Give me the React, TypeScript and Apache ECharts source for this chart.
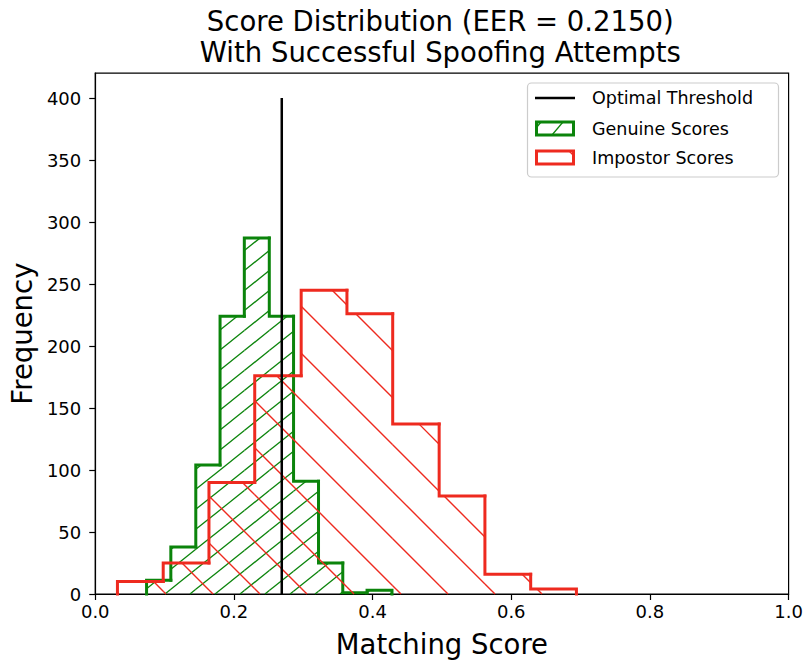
import React, { useEffect, useRef } from "react";
import * as echarts from "echarts";

// ---- data ----
const genuineEdges = [0.074, 0.109, 0.145, 0.18, 0.215, 0.251, 0.286, 0.322, 0.357, 0.392, 0.428];
const genuineCounts = [11, 38, 104, 224, 287, 224, 91, 25, 1, 3];
const impostorEdges = [0.032, 0.098, 0.164, 0.23, 0.297, 0.363, 0.429, 0.496, 0.562, 0.628, 0.694];
const impostorCounts = [10, 25, 90, 176, 245, 226, 137, 79, 16, 4];
const thresholdX = 0.269;
const thresholdTop = 400;
const yTickValues = [0, 50, 100, 150, 200, 250, 300, 350, 400];
const titleLines = ["Score Distribution (EER = 0.2150)", "With Successful Spoofing Attempts"];
const legendLabels = ["Optimal Threshold", "Genuine Scores", "Impostor Scores"];

const GREEN = "#0b840b";
const RED = "#ee2a1f";
const FONT = "DejaVu Sans";

function toBins(edges: number[], counts: number[]) {
  return counts.map((c, i) => [
    edges[i],
    edges[i + 1],
    c,
    i > 0 ? counts[i - 1] : 0,
    i === counts.length - 1 ? 1 : 0,
  ]);
}

function makeRenderItem(color: string, slope: number, spacing: number, phase: number, hatchWidth: number) {
  return (params: any, api: any) => {
    const x0 = api.value(0);
    const x1 = api.value(1);
    const v = api.value(2);
    const prev = api.value(3);
    const last = api.value(4);
    const pBase = api.coord([x0, 0]);
    const pTop = api.coord([x1, v]);
    const pPrev = api.coord([x0, prev]);
    const L = pBase[0];
    const R = pTop[0];
    const T = pTop[1];
    const B = pBase[1];
    const children: any[] = [];
    const cs = [T - slope * L, T - slope * R, B - slope * L, B - slope * R];
    const cmin = Math.min(...cs);
    const cmax = Math.max(...cs);
    if (B - T > 0.5) {
      for (let k = Math.ceil((cmin - phase) / spacing); k * spacing + phase <= cmax; k++) {
        const c = k * spacing + phase;
        let xa = (T - c) / slope;
        let xb = (B - c) / slope;
        if (xa > xb) {
          const t = xa;
          xa = xb;
          xb = t;
        }
        xa = Math.max(xa, L);
        xb = Math.min(xb, R);
        if (xb - xa > 0.3) {
          children.push({
            type: "line",
            shape: { x1: xa, y1: slope * xa + c, x2: xb, y2: slope * xb + c },
            style: { stroke: color, lineWidth: hatchWidth },
          });
        }
      }
    }
    const pts: number[][] = [
      [L, pPrev[1]],
      [L, T],
      [R, T],
    ];
    if (last) pts.push([R, B]);
    children.push({
      type: "polyline",
      shape: { points: pts },
      style: { stroke: color, lineWidth: 3, fill: "none", lineJoin: "miter", lineCap: "square" },
    });
    return { type: "group", children };
  };
}

export default function App() {
  const ref = useRef<HTMLDivElement>(null);

  useEffect(() => {
    if (!ref.current) return;
    const chart = echarts.init(ref.current, undefined, { renderer: "svg" });

    const gridLeft = 92;
    const gridRight = 18.4;
    const gridTop = 73.2;
    const gridBottom = 70;
    const plotCenterX = gridLeft + (807 - gridLeft - gridRight) / 2;

    const axisLineStyle = { color: "#000", width: 1.2 };

    const legendX = 535;
    const legendTextX = 592;
    const legendRows = [98, 128.5, 157.5];

    const option: any = {
      animation: false,
      backgroundColor: "#fff",
      grid: {
        left: gridLeft,
        right: gridRight,
        top: gridTop,
        bottom: gridBottom,
        show: true,
        borderColor: "#000",
        borderWidth: 1.2,
        backgroundColor: "transparent",
      },
      xAxis: {
        type: "value",
        min: 0,
        max: 1,
        interval: 0.2,
        splitLine: { show: false },
        axisLine: { show: true, lineStyle: axisLineStyle },
        axisTick: { show: true, length: 6, lineStyle: axisLineStyle },
        axisLabel: {
          formatter: (v: number) => v.toFixed(1),
          fontSize: 18,
          color: "#000",
          fontFamily: FONT,
          margin: 8,
        },
        name: "Matching Score",
        nameLocation: "middle",
        nameGap: 36,
        nameTextStyle: { fontSize: 27.5, color: "#000", fontFamily: FONT },
      },
      yAxis: {
        type: "value",
        min: 0,
        max: 420,
        interval: 50,
        splitLine: { show: false },
        axisLine: { show: true, lineStyle: axisLineStyle },
        axisTick: { show: true, length: 6, lineStyle: axisLineStyle, customValues: yTickValues },
        axisLabel: {
          customValues: yTickValues,
          formatter: (v: number) => (v % 50 === 0 ? String(v) : ""),
          fontSize: 18,
          color: "#000",
          fontFamily: FONT,
          margin: 14,
        },
        name: "Frequency",
        nameLocation: "middle",
        nameGap: 56,
        nameTextStyle: { fontSize: 27.5, color: "#000", fontFamily: FONT },
      },
      series: [
        {
          name: "Genuine Scores",
          type: "custom",
          z: 2,
          encode: { x: [0, 1], y: 2 },
          data: toBins(genuineEdges, genuineCounts),
          renderItem: makeRenderItem(GREEN, -0.8, 20, 6, 1.3),
        },
        {
          name: "Impostor Scores",
          type: "custom",
          z: 3,
          encode: { x: [0, 1], y: 2 },
          data: toBins(impostorEdges, impostorCounts),
          renderItem: makeRenderItem(RED, 1, 47, 5, 1.4),
        },
        {
          name: "Optimal Threshold",
          type: "line",
          z: 4,
          symbol: "none",
          lineStyle: { color: "#000", width: 2.5 },
          data: [
            [thresholdX, 0],
            [thresholdX, thresholdTop],
          ],
        },
      ],
      graphic: [
        {
          type: "text",
          x: plotCenterX,
          y: 21,
          style: {
            text: titleLines[0],
            fill: "#000",
            font: `27.5px '${FONT}'`,
            textAlign: "center",
            textVerticalAlign: "middle",
          },
        },
        {
          type: "text",
          x: plotCenterX,
          y: 52,
          style: {
            text: titleLines[1],
            fill: "#000",
            font: `27.5px '${FONT}'`,
            textAlign: "center",
            textVerticalAlign: "middle",
          },
        },
        {
          type: "rect",
          z: 10,
          shape: { x: 527.5, y: 83, width: 251, height: 94, r: 4 },
          style: { fill: "rgba(255,255,255,0.8)", stroke: "#cccccc", lineWidth: 1.2 },
        },
        {
          type: "line",
          z: 11,
          shape: { x1: legendX, y1: legendRows[0], x2: legendX + 40, y2: legendRows[0] },
          style: { stroke: "#000", lineWidth: 2.5 },
        },
        {
          type: "rect",
          z: 11,
          shape: { x: legendX + 1.5, y: legendRows[1] - 6.5, width: 37, height: 13 },
          style: { fill: "#fff", stroke: GREEN, lineWidth: 3 },
        },
        {
          type: "line",
          z: 12,
          shape: { x1: legendX + 17, y1: legendRows[1] + 6.5, x2: legendX + 28, y2: legendRows[1] - 6.5 },
          style: { stroke: GREEN, lineWidth: 1.2 },
        },
        {
          type: "line",
          z: 12,
          shape: { x1: legendX + 1.5, y1: legendRows[1] - 1, x2: legendX + 6, y2: legendRows[1] - 6.5 },
          style: { stroke: GREEN, lineWidth: 1.2 },
        },
        {
          type: "rect",
          z: 11,
          shape: { x: legendX + 1.5, y: legendRows[2] - 6.5, width: 37, height: 13 },
          style: { fill: "#fff", stroke: RED, lineWidth: 3 },
        },
        {
          type: "line",
          z: 12,
          shape: { x1: legendX + 34, y1: legendRows[2] - 6.5, x2: legendX + 38.5, y2: legendRows[2] - 2 },
          style: { stroke: RED, lineWidth: 1.2 },
        },
        ...legendLabels.map((t, i) => ({
          type: "text",
          z: 12,
          x: legendTextX,
          y: legendRows[i],
          style: {
            text: t,
            fill: "#000",
            font: `17.5px '${FONT}'`,
            textAlign: "left",
            textVerticalAlign: "middle",
          },
        })),
      ],
    };

    chart.setOption(option);
    return () => {
      chart.dispose();
    };
  }, []);

  return (
    <div
      ref={ref}
      style={{ position: "fixed", left: 0, top: 0, width: 807, height: 664, background: "#fff" }}
    />
  );
}
